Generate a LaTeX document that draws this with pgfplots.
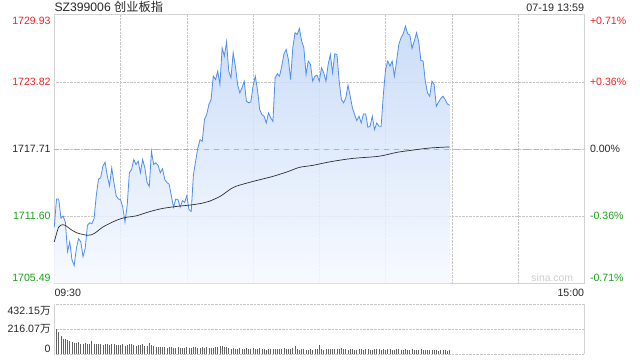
\documentclass[border=0pt]{standalone}
\usepackage{pgfplots}
\pgfplotsset{compat=1.18}
\usepackage{pgfplotstable}
\usepackage{fontspec}
\setmainfont{Liberation Sans}
\newfontfamily\cjk{Noto Sans CJK SC}
\definecolor{lineblue}{RGB}{78,142,236}
\definecolor{filltop}{RGB}{194,215,247}
\definecolor{fillbot}{RGB}{246,249,255}
\definecolor{cred}{RGB}{238,34,34}
\definecolor{cgreen}{RGB}{24,160,24}
\definecolor{corange}{RGB}{240,160,115}
\definecolor{avgline}{RGB}{45,45,45}
\newcommand\lab{\fontsize{10.6bp}{12bp}\selectfont}

\pgfplotstableread{
i p
0 1710.61
1 1713.16
2 1713.16
3 1711.42
4 1711.60
5 1711.06
6 1708.37
7 1709.26
8 1707.62
9 1707.11
10 1708.67
11 1709.56
12 1709.26
13 1707.92
14 1708.67
15 1710.76
16 1711.00
17 1710.91
18 1711.36
19 1713.46
20 1714.95
21 1715.10
22 1716.15
23 1716.51
24 1715.25
25 1714.36
26 1716.00
27 1714.66
28 1713.46
29 1713.16
30 1713.10
31 1712.41
32 1711.06
33 1712.56
34 1715.55
35 1715.85
36 1716.75
37 1716.30
38 1716.60
39 1715.55
40 1716.75
41 1716.00
42 1714.66
43 1714.30
44 1717.50
45 1716.30
46 1716.45
47 1716.21
48 1715.55
49 1715.91
50 1714.95
51 1714.66
52 1714.51
53 1713.46
54 1712.41
55 1713.16
56 1713.10
57 1712.41
58 1713.01
59 1712.86
60 1713.46
61 1712.20
62 1712.03
63 1715.37
64 1716.60
65 1717.80
66 1718.56
67 1718.41
68 1720.39
69 1720.84
70 1721.75
71 1722.21
72 1724.34
73 1724.03
74 1724.79
75 1723.58
76 1726.92
77 1726.16
78 1727.47
79 1724.79
80 1724.19
81 1726.47
82 1725.25
83 1723.58
84 1722.82
85 1723.27
86 1723.88
87 1722.06
88 1721.91
89 1722.00
90 1723.43
91 1724.34
92 1723.12
93 1721.30
94 1720.84
95 1720.69
96 1720.08
97 1720.99
98 1720.54
99 1720.23
100 1724.19
101 1724.55
102 1724.34
103 1725.25
104 1726.37
105 1726.77
106 1725.86
107 1724.03
108 1726.92
109 1728.29
110 1728.14
111 1728.68
112 1727.53
113 1726.92
114 1724.49
115 1725.71
116 1725.40
117 1723.88
118 1724.34
119 1724.43
120 1723.88
121 1725.10
122 1724.64
123 1723.88
124 1725.40
125 1726.31
126 1724.64
127 1726.37
128 1726.31
129 1723.88
130 1722.21
131 1721.91
132 1722.36
133 1723.52
134 1722.51
135 1721.45
136 1720.84
137 1720.29
138 1720.69
139 1720.08
140 1720.90
141 1720.90
142 1719.69
143 1719.78
144 1720.69
145 1719.47
146 1720.08
147 1719.78
148 1719.78
149 1722.66
150 1724.94
151 1725.71
152 1725.25
153 1725.71
154 1724.34
155 1725.71
156 1727.22
157 1727.83
158 1728.20
159 1728.90
160 1728.20
161 1728.08
162 1726.86
163 1727.53
164 1728.29
165 1727.53
166 1725.77
167 1725.71
168 1723.88
169 1722.82
170 1722.51
171 1723.88
172 1723.58
173 1721.60
174 1721.99
175 1722.30
176 1722.51
177 1722.21
178 1721.81
179 1721.69
}\price

\pgfplotstableread{
i a
0 1709.26
2 1710.61
4 1710.82
5 1710.76
7 1710.46
10 1710.10
15 1709.86
18 1710.01
22 1710.61
27 1711.12
30 1711.36
33 1711.51
37 1711.62
43 1712.00
49 1712.30
56 1712.50
62 1712.62
67 1712.78
70 1712.94
75 1713.39
79 1713.95
82 1714.30
90 1714.76
99 1715.22
106 1715.67
111 1716.04
117 1716.22
125 1716.55
135 1716.85
147 1717.05
155 1717.40
162 1717.60
170 1717.80
179 1717.90
}\avg

\pgfplotstableread{
i v
0 432.15
1 215
2 190
3 160
4 130
5 135
6 125
7 118
8 105
9 100
10 95
11 108
12 92
13 88
14 96
15 85
16 90
17 115
18 92
19 88
20 85
21 90
22 84
23 86
24 92
25 80
26 86
27 90
28 82
29 78
30 84
31 88
32 76
33 80
34 92
35 85
36 80
37 74
38 78
39 82
40 86
41 76
42 72
43 94
44 82
45 70
46 62
47 66
48 60
49 64
50 62
51 58
52 60
53 62
54 56
55 58
56 60
57 57
58 55
59 56
60 60
61 58
62 54
63 60
64 62
65 58
66 56
67 64
68 58
69 60
70 54
71 58
72 52
73 60
74 64
75 70
76 72
77 66
78 60
79 54
80 50
81 52
82 48
83 50
84 52
85 48
86 46
87 52
88 50
89 48
90 56
91 50
92 48
93 52
94 46
95 44
96 40
97 42
98 44
99 46
100 48
101 42
102 44
103 50
104 52
105 46
106 48
107 50
108 56
109 68
110 44
111 40
112 42
113 44
114 40
115 38
116 42
117 40
118 44
119 46
120 80
121 42
122 40
123 44
124 42
125 46
126 50
127 48
128 44
129 42
130 52
131 46
132 42
133 40
134 50
135 44
136 40
137 38
138 42
139 48
140 40
141 42
142 44
143 38
144 40
145 50
146 44
147 42
148 38
149 46
150 40
151 42
152 44
153 40
154 38
155 42
156 44
157 40
158 38
159 42
160 40
161 36
162 44
163 40
164 38
165 34
166 42
167 36
168 38
169 36
170 40
171 34
172 36
173 38
174 32
175 36
176 34
177 38
178 32
179 34
}\vol

\begin{document}
\begin{tikzpicture}
\useasboundingbox (0,0) rectangle (640bp,360bp);
\begin{axis}[
  name=top, at={(54.3bp,76.7bp)}, anchor=south west,
  scale only axis, width=530bp, height=268.6bp,
  xmin=0, xmax=240, ymin=1705.49, ymax=1729.93,
  xtick={30,60,...,210}, ytick={1711.60,1717.71,1723.82},
  xticklabels={}, yticklabels={},
  major tick length=0pt,
  grid=major, grid style={gray!45, densely dotted, line width=0.6bp},
  axis line style={gray!35, line width=0.7bp},
  clip=false,
]
\addplot[top color=filltop, bottom color=fillbot, draw=none, fill opacity=0.85, forget plot] table[x=i,y=p] {\price} -- (axis cs:179,1705.49) -- (axis cs:0,1705.49) -- cycle;
\addplot[corange, line width=0.8bp, dash pattern=on 5bp off 5bp] coordinates {(0,1717.71) (240,1717.71)};
\addplot[lineblue, line width=0.8bp] table[x=i,y=p] {\price};
\addplot[avgline, line width=0.7bp, smooth] table[x=i,y=a] {\avg};

\node[anchor=north east, inner sep=0pt, text=cred, font=\lab] at ([xshift=-3.5bp,yshift=-2bp]axis cs:0,1729.93) {1729.93};
\node[anchor=east, inner sep=0pt, text=cred, font=\lab] at ([xshift=-3.5bp]axis cs:0,1723.82) {1723.82};
\node[anchor=east, inner sep=0pt, text=black!85, font=\lab] at ([xshift=-3.5bp]axis cs:0,1717.71) {1717.71};
\node[anchor=east, inner sep=0pt, text=cgreen, font=\lab] at ([xshift=-3.5bp]axis cs:0,1711.60) {1711.60};
\node[anchor=south east, inner sep=0pt, text=cgreen, font=\lab] at ([xshift=-3.5bp,yshift=1bp]axis cs:0,1705.49) {1705.49};

\node[anchor=north west, inner sep=0pt, text=cred, font=\lab] at ([xshift=5.5bp,yshift=-2bp]axis cs:240,1729.93) {+0.71\%};
\node[anchor=west, inner sep=0pt, text=cred, font=\lab] at ([xshift=5.5bp]axis cs:240,1723.82) {+0.36\%};
\node[anchor=west, inner sep=0pt, text=black!85, font=\lab] at ([xshift=5.5bp]axis cs:240,1717.71) {0.00\%};
\node[anchor=west, inner sep=0pt, text=cgreen, font=\lab] at ([xshift=5.5bp]axis cs:240,1711.60) {-0.36\%};
\node[anchor=south west, inner sep=0pt, text=cgreen, font=\lab] at ([xshift=5.5bp,yshift=1bp]axis cs:240,1705.49) {-0.71\%};

\node[anchor=base west, inner sep=0pt, text=black!85, font=\fontsize{12.2bp}{14bp}\selectfont] at ([yshift=2.7bp]axis cs:0,1729.93) {SZ399006 {\cjk 创业板指}};
\node[anchor=base east, inner sep=0pt, text=black!85, font=\fontsize{10.8bp}{12bp}\selectfont] at ([yshift=2.7bp]axis cs:240,1729.93) {07-19 13:59};
\node[anchor=north west, inner sep=0pt, text=black!85, font=\lab] at ([yshift=-5.6bp]axis cs:0,1705.49) {09:30};
\node[anchor=north east, inner sep=0pt, text=black!85, font=\lab] at ([yshift=-5.6bp]axis cs:240,1705.49) {15:00};
\node[anchor=south east, inner sep=0pt, text=gray!40, font=\fontsize{10.4bp}{12bp}\selectfont] at ([xshift=-11bp,yshift=1.3bp]axis cs:240,1705.49) {sina.com};
\end{axis}

\begin{axis}[
  name=vol, at={(54.3bp,5.7bp)}, anchor=south west,
  scale only axis, width=530bp, height=50bp,
  xmin=0, xmax=240, ymin=0, ymax=432.15,
  xtick=\empty, ytick={0,216.07,432.15}, yticklabels={},
  major tick length=0pt,
  ymajorgrids, grid style={gray!45, densely dotted, line width=0.6bp},
  axis line style={draw=none},
  clip=false,
]
\addplot[ycomb, black!62, line width=0.75bp] table[x=i,y=v] {\vol};
\draw[gray!35, line width=0.7bp] (rel axis cs:0,0) -- (rel axis cs:0,1);
\draw[gray!35, line width=0.7bp] (rel axis cs:1,0) -- (rel axis cs:1,1);
\node[anchor=north east, inner sep=0pt, text=black!85, font=\lab] at ([xshift=-3.5bp,yshift=-2bp]axis cs:0,432.15) {432.15{\cjk 万}};
\node[anchor=east, inner sep=0pt, text=black!85, font=\lab] at ([xshift=-3.5bp]axis cs:0,216.07) {216.07{\cjk 万}};
\node[anchor=south east, inner sep=0pt, text=black!85, font=\lab] at ([xshift=-3.5bp,yshift=1bp]axis cs:0,0) {0};
\end{axis}
\end{tikzpicture}
\end{document}
